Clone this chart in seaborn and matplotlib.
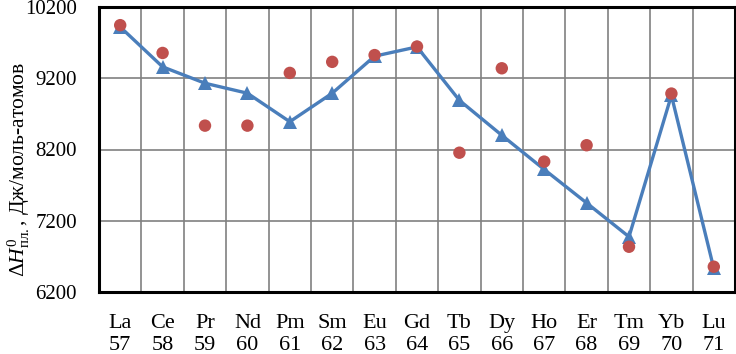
import numpy as np
import pandas as pd
import matplotlib
matplotlib.use('Agg')
import matplotlib.pyplot as plt
import seaborn as sns
from matplotlib.ticker import MultipleLocator

# данные
elements = ['La', 'Ce', 'Pr', 'Nd', 'Pm', 'Sm', 'Eu', 'Gd', 'Tb', 'Dy', 'Ho', 'Er', 'Tm', 'Yb', 'Lu']
z_numbers = [57, 58, 59, 60, 61, 62, 63, 64, 65, 66, 67, 68, 69, 70, 71]
dh_calc = [9920, 9360, 9130, 8990, 8590, 8990, 9510, 9640, 8890, 8400, 7920, 7450, 6975, 8960, 6530]
dh_exp = [9945, 9555, 8535, 8535, 9275, 9430, 9525, 9645, 8155, 9340, 8030, 8260, 6835, 8985, 6555]
y_ticks = [6200, 7200, 8200, 9200, 10200]

sns.set_theme(style='white')
plt.rcParams['font.family'] = ['Liberation Serif', 'DejaVu Serif']
plt.rcParams['mathtext.fontset'] = 'custom'
plt.rcParams['mathtext.rm'] = 'Liberation Serif'
plt.rcParams['mathtext.it'] = 'Liberation Serif:italic'

df = pd.DataFrame({'z': z_numbers, 'calc': dh_calc, 'exp': dh_exp})

fig = plt.figure(figsize=(7.36, 3.54), dpi=100)
ax = fig.add_axes([99 / 736, 62 / 354, 636 / 736, 285 / 354])

sns.lineplot(data=df, x='z', y='calc', ax=ax, color='#4A7EBB', linewidth=2.4,
             marker='^', markersize=9.5, markeredgewidth=0, zorder=3)
sns.scatterplot(data=df, x='z', y='exp', ax=ax, color='#C0504D', s=80,
                edgecolor='none', zorder=4)

ax.set_xlim(56.5, 71.5)
ax.set_ylim(6200, 10200)
ax.set_yticks(y_ticks)
ax.set_xticks(z_numbers)
ax.set_xticklabels([f'{e}\n{z}' for e, z in zip(elements, z_numbers)], linespacing=1.2)
ax.xaxis.set_minor_locator(MultipleLocator(1, offset=0.5))
ax.grid(True, which='minor', axis='x', color='#808080', linewidth=1.2)
ax.grid(True, which='major', axis='y', color='#808080', linewidth=1.2)
ax.grid(False, which='major', axis='x')
ax.set_axisbelow(True)
ax.tick_params(axis='both', which='both', length=0, colors='black')
ax.tick_params(axis='x', labelsize=16, pad=16)
ax.tick_params(axis='y', labelsize=15, pad=16)

for sp in ax.spines.values():
    sp.set_visible(True)
    sp.set_color('black')
    sp.set_linewidth(2.2)

ax.set_xlabel('')
ax.set_ylabel(r'$\Delta H^{0}_{\mathrm{пл.}}$, Дж/моль-атомов', fontsize=15.5, color='black')
ax.yaxis.set_label_coords(-0.106, 0.43)

fig.savefig('out.png', dpi=100)
